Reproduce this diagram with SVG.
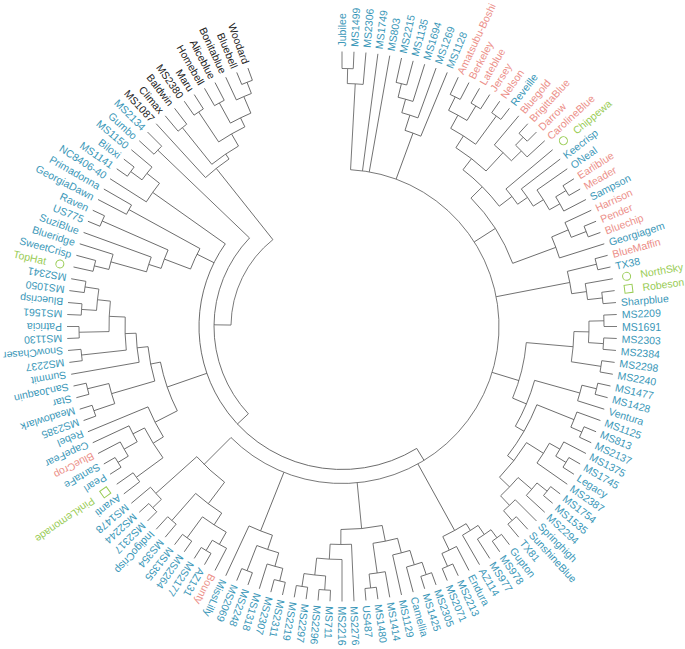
<svg xmlns="http://www.w3.org/2000/svg" width="685" height="649" viewBox="0 0 685 649">
<style>
.e line,.e circle{fill:none;stroke:#5a5a5a;stroke-width:0.8}
text{font-family:"Liberation Sans",Arial,sans-serif;font-size:10.5px;dominant-baseline:central}
.b{fill:#3a97b8}.p{fill:#ec8f89}.g{fill:#99cc55}.k{fill:#222}
.f{text-anchor:end}
.m{fill:none;stroke:#99cc55;stroke-width:1}
</style>
<rect width="685" height="649" fill="#fff"/>
<g transform="translate(342,326.5)">
<g id="connectors" class="e">
<line x1="258" x2="275" transform="rotate(-90)"/><line x1="258" x2="275" transform="rotate(-87.5)"/><line x1="243" x2="275" transform="rotate(-85)"/><line x1="157" x2="275" transform="rotate(-82.5)"/><line x1="157" x2="275" transform="rotate(-80)"/><line x1="250" x2="275" transform="rotate(-77.5)"/><line x1="250" x2="275" transform="rotate(-75)"/><line x1="236" x2="275" transform="rotate(-72.5)"/><line x1="222" x2="275" transform="rotate(-70)"/><line x1="206" x2="275" transform="rotate(-67.5)"/>
<line x1="256" x2="275" transform="rotate(-65)"/><line x1="256" x2="275" transform="rotate(-62.5)"/><line x1="258" x2="275" transform="rotate(-60)"/><line x1="258" x2="275" transform="rotate(-57.5)"/><line x1="261" x2="275" transform="rotate(-55)"/><line x1="261" x2="275" transform="rotate(-52.5)"/><line x1="237" x2="275" transform="rotate(-50)"/><line x1="262" x2="275" transform="rotate(-47.5)"/><line x1="262" x2="275" transform="rotate(-45)"/><line x1="251" x2="275" transform="rotate(-42.5)"/>
<line x1="214" x2="275" transform="rotate(-40)"/><line x1="226" x2="275" transform="rotate(-37.5)"/><line x1="238" x2="275" transform="rotate(-35)"/><line x1="262" x2="275" transform="rotate(-32.5)"/><line x1="262" x2="275" transform="rotate(-30)"/><line x1="250" x2="275" transform="rotate(-27.5)"/><line x1="246" x2="275" transform="rotate(-25)"/><line x1="262" x2="275" transform="rotate(-22.5)"/><line x1="262" x2="275" transform="rotate(-20)"/><line x1="228" x2="275" transform="rotate(-17.5)"/>
<line x1="262" x2="275" transform="rotate(-15)"/><line x1="262" x2="275" transform="rotate(-12.5)"/><line x1="247" x2="275" transform="rotate(-10)"/><line x1="262" x2="275" transform="rotate(-7.5)"/><line x1="262" x2="275" transform="rotate(-5)"/><line x1="262" x2="275" transform="rotate(-2.5)"/><line x1="262" x2="275" transform="rotate(0)"/><line x1="262" x2="275" transform="rotate(2.5)"/><line x1="262" x2="275" transform="rotate(5)"/><line x1="262" x2="275" transform="rotate(7.5)"/>
<line x1="262" x2="275" transform="rotate(10)"/><line x1="262" x2="275" transform="rotate(12.5)"/><line x1="262" x2="275" transform="rotate(15)"/><line x1="247" x2="275" transform="rotate(17.5)"/><line x1="250" x2="275" transform="rotate(20)"/><line x1="262" x2="275" transform="rotate(22.5)"/><line x1="262" x2="275" transform="rotate(25)"/><line x1="250" x2="275" transform="rotate(27.5)"/><line x1="262" x2="275" transform="rotate(30)"/><line x1="262" x2="275" transform="rotate(32.5)"/>
<line x1="238" x2="275" transform="rotate(35)"/><line x1="263" x2="275" transform="rotate(37.5)"/><line x1="263" x2="275" transform="rotate(40)"/><line x1="250" x2="275" transform="rotate(42.5)"/><line x1="245" x2="275" transform="rotate(45)"/><line x1="258" x2="275" transform="rotate(47.5)"/><line x1="258" x2="275" transform="rotate(50)"/><line x1="262" x2="275" transform="rotate(52.5)"/><line x1="262" x2="275" transform="rotate(55)"/><line x1="252" x2="275" transform="rotate(57.5)"/>
<line x1="241" x2="275" transform="rotate(60)"/><line x1="248" x2="275" transform="rotate(62.5)"/><line x1="262" x2="275" transform="rotate(65)"/><line x1="262" x2="275" transform="rotate(67.5)"/><line x1="262" x2="275" transform="rotate(70)"/><line x1="262" x2="275" transform="rotate(72.5)"/><line x1="249" x2="275" transform="rotate(75)"/><line x1="234" x2="275" transform="rotate(77.5)"/><line x1="249" x2="275" transform="rotate(80)"/><line x1="263" x2="275" transform="rotate(82.5)"/>
<line x1="263" x2="275" transform="rotate(85)"/><line x1="218" x2="275" transform="rotate(87.5)"/><line x1="233" x2="275" transform="rotate(90)"/><line x1="264" x2="275" transform="rotate(92.5)"/><line x1="264" x2="275" transform="rotate(95)"/><line x1="263" x2="275" transform="rotate(97.5)"/><line x1="263" x2="275" transform="rotate(100)"/><line x1="262" x2="275" transform="rotate(102.5)"/><line x1="262" x2="275" transform="rotate(105)"/><line x1="249" x2="275" transform="rotate(107.5)"/>
<line x1="262" x2="275" transform="rotate(110)"/><line x1="262" x2="275" transform="rotate(112.5)"/><line x1="220" x2="275" transform="rotate(115)"/><line x1="250" x2="275" transform="rotate(117.5)"/><line x1="262" x2="275" transform="rotate(120)"/><line x1="262" x2="275" transform="rotate(122.5)"/><line x1="262" x2="275" transform="rotate(125)"/><line x1="262" x2="275" transform="rotate(127.5)"/><line x1="258" x2="275" transform="rotate(130)"/><line x1="258" x2="275" transform="rotate(132.5)"/>
<line x1="262" x2="275" transform="rotate(135)"/><line x1="262" x2="275" transform="rotate(137.5)"/><line x1="250" x2="275" transform="rotate(140)"/><line x1="255" x2="275" transform="rotate(142.5)"/><line x1="255" x2="275" transform="rotate(145)"/><line x1="262" x2="275" transform="rotate(147.5)"/><line x1="262" x2="275" transform="rotate(150)"/><line x1="250" x2="275" transform="rotate(152.5)"/><line x1="235" x2="275" transform="rotate(155)"/><line x1="210" x2="275" transform="rotate(157.5)"/>
<line x1="262" x2="275" transform="rotate(160)"/><line x1="262" x2="275" transform="rotate(162.5)"/><line x1="262" x2="275" transform="rotate(165)"/><line x1="262" x2="275" transform="rotate(167.5)"/><line x1="206" x2="275" transform="rotate(170)"/><line x1="262" x2="275" transform="rotate(172.5)"/><line x1="262" x2="275" transform="rotate(175)"/><line x1="263" x2="275" transform="rotate(177.5)"/><line x1="263" x2="275" transform="rotate(180)"/><line x1="261" x2="275" transform="rotate(182.5)"/>
<line x1="261" x2="275" transform="rotate(185)"/><line x1="260" x2="275" transform="rotate(187.5)"/><line x1="260" x2="275" transform="rotate(190)"/><line x1="255" x2="275" transform="rotate(192.5)"/><line x1="255" x2="275" transform="rotate(195)"/><line x1="240" x2="275" transform="rotate(197.5)"/><line x1="203" x2="275" transform="rotate(200)"/><line x1="262" x2="275" transform="rotate(202.5)"/><line x1="262" x2="275" transform="rotate(205)"/><line x1="243" x2="275" transform="rotate(207.5)"/>
<line x1="243" x2="275" transform="rotate(210)"/><line x1="232" x2="275" transform="rotate(212.5)"/><line x1="262" x2="275" transform="rotate(215)"/><line x1="262" x2="275" transform="rotate(217.5)"/><line x1="248" x2="275" transform="rotate(220)"/><line x1="255" x2="275" transform="rotate(222.5)"/><line x1="255" x2="275" transform="rotate(225)"/><line x1="202" x2="275" transform="rotate(227.5)"/><line x1="255" x2="275" transform="rotate(230)"/><line x1="255" x2="275" transform="rotate(232.5)"/>
<line x1="258" x2="275" transform="rotate(235)"/><line x1="258" x2="275" transform="rotate(237.5)"/><line x1="255" x2="275" transform="rotate(240)"/><line x1="255" x2="275" transform="rotate(242.5)"/><line x1="250" x2="275" transform="rotate(245)"/><line x1="262" x2="275" transform="rotate(247.5)"/><line x1="262" x2="275" transform="rotate(250)"/>
<line x1="243" x2="258" transform="rotate(-88.75)"/><line x1="157" x2="243" transform="rotate(-86.875)"/><line x1="236" x2="250" transform="rotate(-76.25)"/><line x1="222" x2="236" transform="rotate(-74.375)"/><line x1="206" x2="222" transform="rotate(-72.19)"/><line x1="157" x2="206" transform="rotate(-69.84)"/>
<line x1="241" x2="256" transform="rotate(-63.75)"/><line x1="241" x2="258" transform="rotate(-58.75)"/><line x1="226" x2="241" transform="rotate(-61.25)"/><line x1="226" x2="261" transform="rotate(-53.75)"/><line x1="212" x2="226" transform="rotate(-57.5)"/><line x1="251" x2="262" transform="rotate(-46.25)"/><line x1="237" x2="251" transform="rotate(-44.375)"/><line x1="212" x2="237" transform="rotate(-47.19)"/><line x1="198" x2="212" transform="rotate(-52.34)"/>
<line x1="250" x2="262" transform="rotate(-31.25)"/><line x1="238" x2="250" transform="rotate(-29.375)"/><line x1="226" x2="238" transform="rotate(-32.19)"/><line x1="214" x2="226" transform="rotate(-34.84)"/><line x1="198" x2="214" transform="rotate(-37.42)"/><line x1="182" x2="198" transform="rotate(-44.88)"/><line x1="246" x2="262" transform="rotate(-21.25)"/><line x1="228" x2="246" transform="rotate(-23.125)"/><line x1="182" x2="228" transform="rotate(-20.31)"/><line x1="157" x2="182" transform="rotate(-32.6)"/>
<line x1="232" x2="262" transform="rotate(-13.75)"/><line x1="247" x2="262" transform="rotate(-6.25)"/><line x1="232" x2="247" transform="rotate(-8.125)"/><line x1="157" x2="232" transform="rotate(-10.94)"/>
<line x1="247" x2="262" transform="rotate(-1.25)"/><line x1="247" x2="262" transform="rotate(3.75)"/><line x1="232" x2="247" transform="rotate(1.25)"/><line x1="232" x2="262" transform="rotate(8.75)"/><line x1="185" x2="232" transform="rotate(5)"/><line x1="247" x2="262" transform="rotate(13.75)"/><line x1="200" x2="247" transform="rotate(15.625)"/>
<line x1="250" x2="262" transform="rotate(23.75)"/><line x1="210" x2="250" transform="rotate(21.875)"/><line x1="250" x2="262" transform="rotate(31.25)"/><line x1="238" x2="250" transform="rotate(29.375)"/><line x1="218" x2="238" transform="rotate(32.19)"/><line x1="250" x2="263" transform="rotate(38.75)"/><line x1="232" x2="250" transform="rotate(40.625)"/><line x1="245" x2="258" transform="rotate(48.75)"/><line x1="232" x2="245" transform="rotate(46.875)"/><line x1="218" x2="232" transform="rotate(43.75)"/><line x1="210" x2="218" transform="rotate(37.97)"/><line x1="200" x2="210" transform="rotate(29.92)"/><line x1="185" x2="200" transform="rotate(22.77)"/><line x1="157" x2="185" transform="rotate(17)"/>
<line x1="248" x2="262" transform="rotate(66.25)"/><line x1="233" x2="248" transform="rotate(64.375)"/><line x1="252" x2="262" transform="rotate(53.75)"/><line x1="241" x2="252" transform="rotate(55.625)"/><line x1="233" x2="241" transform="rotate(57.81)"/><line x1="157" x2="233" transform="rotate(61.09)"/>
<line x1="250" x2="263" transform="rotate(98.75)"/><line x1="250" x2="264" transform="rotate(93.75)"/><line x1="233" x2="250" transform="rotate(96.25)"/><line x1="218" x2="233" transform="rotate(93.125)"/><line x1="203" x2="218" transform="rotate(90.31)"/><line x1="249" x2="263" transform="rotate(83.75)"/><line x1="219" x2="249" transform="rotate(81.875)"/><line x1="249" x2="262" transform="rotate(71.25)"/><line x1="234" x2="249" transform="rotate(73.125)"/><line x1="219" x2="234" transform="rotate(75.31)"/><line x1="203" x2="219" transform="rotate(78.59)"/><line x1="157" x2="203" transform="rotate(84.45)"/>
<line x1="235" x2="262" transform="rotate(111.25)"/><line x1="249" x2="262" transform="rotate(103.75)"/><line x1="235" x2="249" transform="rotate(105.625)"/><line x1="220" x2="235" transform="rotate(108.44)"/><line x1="157" x2="220" transform="rotate(111.72)"/>
<line x1="250" x2="262" transform="rotate(121.25)"/><line x1="236" x2="250" transform="rotate(119.375)"/><line x1="236" x2="262" transform="rotate(126.25)"/><line x1="222" x2="236" transform="rotate(122.81)"/><line x1="222" x2="258" transform="rotate(131.25)"/><line x1="195" x2="222" transform="rotate(127.03)"/><line x1="250" x2="262" transform="rotate(136.25)"/><line x1="195" x2="250" transform="rotate(138.125)"/><line x1="157" x2="195" transform="rotate(135)"/><line x1="143" x2="157" transform="rotate(58.5)"/>
<line x1="222" x2="255" transform="rotate(143.75)"/><line x1="250" x2="262" transform="rotate(148.75)"/><line x1="235" x2="250" transform="rotate(150.625)"/><line x1="222" x2="235" transform="rotate(152.81)"/><line x1="210" x2="222" transform="rotate(148.28)"/><line x1="185" x2="210" transform="rotate(152.89)"/>
<line x1="240" x2="262" transform="rotate(161.25)"/><line x1="240" x2="262" transform="rotate(166.25)"/><line x1="195" x2="240" transform="rotate(163.75)"/><line x1="246" x2="260" transform="rotate(188.75)"/><line x1="246" x2="261" transform="rotate(183.75)"/><line x1="233" x2="246" transform="rotate(186.25)"/><line x1="233" x2="263" transform="rotate(178.75)"/><line x1="217" x2="233" transform="rotate(182.5)"/><line x1="217" x2="262" transform="rotate(173.75)"/><line x1="206" x2="217" transform="rotate(178.125)"/><line x1="195" x2="206" transform="rotate(174.06)"/><line x1="185" x2="195" transform="rotate(168.9)"/><line x1="143" x2="185" transform="rotate(160.9)"/>
<line x1="240" x2="255" transform="rotate(193.75)"/><line x1="203" x2="240" transform="rotate(195.625)"/><line x1="190" x2="203" transform="rotate(197.81)"/><line x1="190" x2="262" transform="rotate(203.75)"/><line x1="162" x2="190" transform="rotate(200.78)"/><line x1="162" x2="243" transform="rotate(208.75)"/><line x1="143" x2="162" transform="rotate(206.5)"/>
<line x1="248" x2="262" transform="rotate(216.25)"/><line x1="232" x2="248" transform="rotate(218.125)"/><line x1="143" x2="232" transform="rotate(215.31)"/><line x1="128" x2="143" transform="rotate(137)"/><line x1="128" x2="255" transform="rotate(223.75)"/><line x1="111" x2="128" transform="rotate(180.75)"/>
<line x1="208" x2="255" transform="rotate(231.25)"/><line x1="222" x2="258" transform="rotate(236.25)"/><line x1="232" x2="255" transform="rotate(241.25)"/><line x1="250" x2="262" transform="rotate(248.75)"/><line x1="232" x2="250" transform="rotate(246.875)"/><line x1="222" x2="232" transform="rotate(244.06)"/><line x1="208" x2="222" transform="rotate(240.16)"/><line x1="202" x2="208" transform="rotate(236)"/><line x1="111" x2="202" transform="rotate(231.5)"/>
<circle r="258" pathLength="360" stroke-dasharray="2.5 360" transform="rotate(-90)"/>
<circle r="243" pathLength="360" stroke-dasharray="3.75 360" transform="rotate(-88.75)"/>
<circle r="157" pathLength="360" stroke-dasharray="221.875 360" transform="rotate(-86.875)"/>
<circle r="250" pathLength="360" stroke-dasharray="2.5 360" transform="rotate(-77.5)"/>
<circle r="236" pathLength="360" stroke-dasharray="3.75 360" transform="rotate(-76.25)"/>
<circle r="222" pathLength="360" stroke-dasharray="4.375 360" transform="rotate(-74.375)"/>
<circle r="206" pathLength="360" stroke-dasharray="4.69 360" transform="rotate(-72.19)"/>
<circle r="256" pathLength="360" stroke-dasharray="2.5 360" transform="rotate(-65)"/>
<circle r="258" pathLength="360" stroke-dasharray="2.5 360" transform="rotate(-60)"/>
<circle r="241" pathLength="360" stroke-dasharray="5 360" transform="rotate(-63.75)"/>
<circle r="261" pathLength="360" stroke-dasharray="2.5 360" transform="rotate(-55)"/>
<circle r="226" pathLength="360" stroke-dasharray="7.5 360" transform="rotate(-61.25)"/>
<circle r="262" pathLength="360" stroke-dasharray="2.5 360" transform="rotate(-47.5)"/>
<circle r="251" pathLength="360" stroke-dasharray="3.75 360" transform="rotate(-46.25)"/>
<circle r="237" pathLength="360" stroke-dasharray="5.625 360" transform="rotate(-50)"/>
<circle r="212" pathLength="360" stroke-dasharray="10.31 360" transform="rotate(-57.5)"/>
<circle r="262" pathLength="360" stroke-dasharray="2.5 360" transform="rotate(-32.5)"/>
<circle r="250" pathLength="360" stroke-dasharray="3.75 360" transform="rotate(-31.25)"/>
<circle r="238" pathLength="360" stroke-dasharray="5.625 360" transform="rotate(-35)"/>
<circle r="226" pathLength="360" stroke-dasharray="5.31 360" transform="rotate(-37.5)"/>
<circle r="214" pathLength="360" stroke-dasharray="5.16 360" transform="rotate(-40)"/>
<circle r="198" pathLength="360" stroke-dasharray="14.92 360" transform="rotate(-52.34)"/>
<circle r="262" pathLength="360" stroke-dasharray="2.5 360" transform="rotate(-22.5)"/>
<circle r="246" pathLength="360" stroke-dasharray="3.75 360" transform="rotate(-25)"/>
<circle r="228" pathLength="360" stroke-dasharray="5.625 360" transform="rotate(-23.125)"/>
<circle r="182" pathLength="360" stroke-dasharray="24.57 360" transform="rotate(-44.88)"/>
<circle r="262" pathLength="360" stroke-dasharray="2.5 360" transform="rotate(-15)"/>
<circle r="262" pathLength="360" stroke-dasharray="2.5 360" transform="rotate(-7.5)"/>
<circle r="247" pathLength="360" stroke-dasharray="3.75 360" transform="rotate(-10)"/>
<circle r="232" pathLength="360" stroke-dasharray="5.625 360" transform="rotate(-13.75)"/>
<circle r="262" pathLength="360" stroke-dasharray="2.5 360" transform="rotate(-2.5)"/>
<circle r="262" pathLength="360" stroke-dasharray="2.5 360" transform="rotate(2.5)"/>
<circle r="247" pathLength="360" stroke-dasharray="5 360" transform="rotate(-1.25)"/>
<circle r="262" pathLength="360" stroke-dasharray="2.5 360" transform="rotate(7.5)"/>
<circle r="232" pathLength="360" stroke-dasharray="7.5 360" transform="rotate(1.25)"/>
<circle r="262" pathLength="360" stroke-dasharray="2.5 360" transform="rotate(12.5)"/>
<circle r="247" pathLength="360" stroke-dasharray="3.75 360" transform="rotate(13.75)"/>
<circle r="262" pathLength="360" stroke-dasharray="2.5 360" transform="rotate(22.5)"/>
<circle r="250" pathLength="360" stroke-dasharray="3.75 360" transform="rotate(20)"/>
<circle r="262" pathLength="360" stroke-dasharray="2.5 360" transform="rotate(30)"/>
<circle r="250" pathLength="360" stroke-dasharray="3.75 360" transform="rotate(27.5)"/>
<circle r="238" pathLength="360" stroke-dasharray="5.625 360" transform="rotate(29.375)"/>
<circle r="263" pathLength="360" stroke-dasharray="2.5 360" transform="rotate(37.5)"/>
<circle r="250" pathLength="360" stroke-dasharray="3.75 360" transform="rotate(38.75)"/>
<circle r="258" pathLength="360" stroke-dasharray="2.5 360" transform="rotate(47.5)"/>
<circle r="245" pathLength="360" stroke-dasharray="3.75 360" transform="rotate(45)"/>
<circle r="232" pathLength="360" stroke-dasharray="6.25 360" transform="rotate(40.625)"/>
<circle r="218" pathLength="360" stroke-dasharray="11.56 360" transform="rotate(32.19)"/>
<circle r="210" pathLength="360" stroke-dasharray="16.1 360" transform="rotate(21.875)"/>
<circle r="200" pathLength="360" stroke-dasharray="14.3 360" transform="rotate(15.625)"/>
<circle r="185" pathLength="360" stroke-dasharray="17.77 360" transform="rotate(5)"/>
<circle r="262" pathLength="360" stroke-dasharray="2.5 360" transform="rotate(65)"/>
<circle r="248" pathLength="360" stroke-dasharray="3.75 360" transform="rotate(62.5)"/>
<circle r="262" pathLength="360" stroke-dasharray="2.5 360" transform="rotate(52.5)"/>
<circle r="252" pathLength="360" stroke-dasharray="3.75 360" transform="rotate(53.75)"/>
<circle r="241" pathLength="360" stroke-dasharray="4.375 360" transform="rotate(55.625)"/>
<circle r="233" pathLength="360" stroke-dasharray="6.56 360" transform="rotate(57.81)"/>
<circle r="263" pathLength="360" stroke-dasharray="2.5 360" transform="rotate(97.5)"/>
<circle r="264" pathLength="360" stroke-dasharray="2.5 360" transform="rotate(92.5)"/>
<circle r="250" pathLength="360" stroke-dasharray="5 360" transform="rotate(93.75)"/>
<circle r="233" pathLength="360" stroke-dasharray="6.25 360" transform="rotate(90)"/>
<circle r="218" pathLength="360" stroke-dasharray="5.625 360" transform="rotate(87.5)"/>
<circle r="263" pathLength="360" stroke-dasharray="2.5 360" transform="rotate(82.5)"/>
<circle r="249" pathLength="360" stroke-dasharray="3.75 360" transform="rotate(80)"/>
<circle r="262" pathLength="360" stroke-dasharray="2.5 360" transform="rotate(70)"/>
<circle r="249" pathLength="360" stroke-dasharray="3.75 360" transform="rotate(71.25)"/>
<circle r="234" pathLength="360" stroke-dasharray="4.375 360" transform="rotate(73.125)"/>
<circle r="219" pathLength="360" stroke-dasharray="6.56 360" transform="rotate(75.31)"/>
<circle r="203" pathLength="360" stroke-dasharray="11.72 360" transform="rotate(78.59)"/>
<circle r="262" pathLength="360" stroke-dasharray="2.5 360" transform="rotate(110)"/>
<circle r="262" pathLength="360" stroke-dasharray="2.5 360" transform="rotate(102.5)"/>
<circle r="249" pathLength="360" stroke-dasharray="3.75 360" transform="rotate(103.75)"/>
<circle r="235" pathLength="360" stroke-dasharray="5.625 360" transform="rotate(105.625)"/>
<circle r="220" pathLength="360" stroke-dasharray="6.56 360" transform="rotate(108.44)"/>
<circle r="262" pathLength="360" stroke-dasharray="2.5 360" transform="rotate(120)"/>
<circle r="250" pathLength="360" stroke-dasharray="3.75 360" transform="rotate(117.5)"/>
<circle r="262" pathLength="360" stroke-dasharray="2.5 360" transform="rotate(125)"/>
<circle r="236" pathLength="360" stroke-dasharray="6.875 360" transform="rotate(119.375)"/>
<circle r="258" pathLength="360" stroke-dasharray="2.5 360" transform="rotate(130)"/>
<circle r="222" pathLength="360" stroke-dasharray="8.44 360" transform="rotate(122.81)"/>
<circle r="262" pathLength="360" stroke-dasharray="2.5 360" transform="rotate(135)"/>
<circle r="250" pathLength="360" stroke-dasharray="3.75 360" transform="rotate(136.25)"/>
<circle r="195" pathLength="360" stroke-dasharray="11.1 360" transform="rotate(127.03)"/>
<circle r="255" pathLength="360" stroke-dasharray="2.5 360" transform="rotate(142.5)"/>
<circle r="262" pathLength="360" stroke-dasharray="2.5 360" transform="rotate(147.5)"/>
<circle r="250" pathLength="360" stroke-dasharray="3.75 360" transform="rotate(148.75)"/>
<circle r="235" pathLength="360" stroke-dasharray="4.375 360" transform="rotate(150.625)"/>
<circle r="222" pathLength="360" stroke-dasharray="9.06 360" transform="rotate(143.75)"/>
<circle r="210" pathLength="360" stroke-dasharray="9.22 360" transform="rotate(148.28)"/>
<circle r="262" pathLength="360" stroke-dasharray="2.5 360" transform="rotate(160)"/>
<circle r="262" pathLength="360" stroke-dasharray="2.5 360" transform="rotate(165)"/>
<circle r="240" pathLength="360" stroke-dasharray="5 360" transform="rotate(161.25)"/>
<circle r="260" pathLength="360" stroke-dasharray="2.5 360" transform="rotate(187.5)"/>
<circle r="261" pathLength="360" stroke-dasharray="2.5 360" transform="rotate(182.5)"/>
<circle r="246" pathLength="360" stroke-dasharray="5 360" transform="rotate(183.75)"/>
<circle r="263" pathLength="360" stroke-dasharray="2.5 360" transform="rotate(177.5)"/>
<circle r="233" pathLength="360" stroke-dasharray="7.5 360" transform="rotate(178.75)"/>
<circle r="262" pathLength="360" stroke-dasharray="2.5 360" transform="rotate(172.5)"/>
<circle r="217" pathLength="360" stroke-dasharray="8.75 360" transform="rotate(173.75)"/>
<circle r="206" pathLength="360" stroke-dasharray="8.125 360" transform="rotate(170)"/>
<circle r="195" pathLength="360" stroke-dasharray="10.31 360" transform="rotate(163.75)"/>
<circle r="185" pathLength="360" stroke-dasharray="16.01 360" transform="rotate(152.89)"/>
<circle r="255" pathLength="360" stroke-dasharray="2.5 360" transform="rotate(192.5)"/>
<circle r="240" pathLength="360" stroke-dasharray="3.75 360" transform="rotate(193.75)"/>
<circle r="203" pathLength="360" stroke-dasharray="4.375 360" transform="rotate(195.625)"/>
<circle r="262" pathLength="360" stroke-dasharray="2.5 360" transform="rotate(202.5)"/>
<circle r="190" pathLength="360" stroke-dasharray="5.94 360" transform="rotate(197.81)"/>
<circle r="243" pathLength="360" stroke-dasharray="2.5 360" transform="rotate(207.5)"/>
<circle r="162" pathLength="360" stroke-dasharray="7.97 360" transform="rotate(200.78)"/>
<circle r="262" pathLength="360" stroke-dasharray="2.5 360" transform="rotate(215)"/>
<circle r="248" pathLength="360" stroke-dasharray="3.75 360" transform="rotate(216.25)"/>
<circle r="232" pathLength="360" stroke-dasharray="5.625 360" transform="rotate(212.5)"/>
<circle r="143" pathLength="360" stroke-dasharray="156.81 360" transform="rotate(58.5)"/>
<circle r="255" pathLength="360" stroke-dasharray="2.5 360" transform="rotate(222.5)"/>
<circle r="128" pathLength="360" stroke-dasharray="86.75 360" transform="rotate(137)"/>
<circle r="255" pathLength="360" stroke-dasharray="2.5 360" transform="rotate(230)"/>
<circle r="258" pathLength="360" stroke-dasharray="2.5 360" transform="rotate(235)"/>
<circle r="255" pathLength="360" stroke-dasharray="2.5 360" transform="rotate(240)"/>
<circle r="262" pathLength="360" stroke-dasharray="2.5 360" transform="rotate(247.5)"/>
<circle r="250" pathLength="360" stroke-dasharray="3.75 360" transform="rotate(245)"/>
<circle r="232" pathLength="360" stroke-dasharray="5.625 360" transform="rotate(241.25)"/>
<circle r="222" pathLength="360" stroke-dasharray="7.81 360" transform="rotate(236.25)"/>
<circle r="208" pathLength="360" stroke-dasharray="8.91 360" transform="rotate(231.25)"/>
<circle r="202" pathLength="360" stroke-dasharray="8.5 360" transform="rotate(227.5)"/>
<circle r="111" pathLength="360" stroke-dasharray="50.75 360" transform="rotate(180.75)"/>
</g>
<g id="markers">
<circle class="m" cx="289" r="4" transform="rotate(-40)"/>
<circle class="m" cx="289" r="4" transform="rotate(-10)"/>
<rect class="m" x="285" y="-4" width="8" height="8" transform="rotate(-7.5)"/>
<rect class="m" x="285" y="-4" width="8" height="8" transform="rotate(145)"/>
<circle class="m" cx="289" r="4" transform="rotate(192.5)"/>
</g>
<g id="labels">
<g id="leaf-Jubilee"><text class="b" transform="rotate(-90) translate(280)">Jubilee</text></g>
<g id="leaf-MS1499"><text class="b" transform="rotate(-87.5) translate(280)">MS1499</text></g>
<g id="leaf-MS2306"><text class="b" transform="rotate(-85) translate(280)">MS2306</text></g>
<g id="leaf-MS1749"><text class="b" transform="rotate(-82.5) translate(280)">MS1749</text></g>
<g id="leaf-MS803"><text class="b" transform="rotate(-80) translate(280)">MS803</text></g>
<g id="leaf-MS2215"><text class="b" transform="rotate(-77.5) translate(280)">MS2215</text></g>
<g id="leaf-MS1135"><text class="b" transform="rotate(-75) translate(280)">MS1135</text></g>
<g id="leaf-MS1694"><text class="b" transform="rotate(-72.5) translate(280)">MS1694</text></g>
<g id="leaf-MS1269"><text class="b" transform="rotate(-70) translate(280)">MS1269</text></g>
<g id="leaf-MS1128"><text class="b" transform="rotate(-67.5) translate(280)">MS1128</text></g>
<g id="leaf-Amatsubu-Boshi"><text class="p" transform="rotate(-65) translate(279)">Amatsubu-Boshi</text></g>
<g id="leaf-Berkeley"><text class="p" transform="rotate(-62.5) translate(280)">Berkeley</text></g>
<g id="leaf-Lateblue"><text class="p" transform="rotate(-60) translate(280)">Lateblue</text></g>
<g id="leaf-Jersey"><text class="p" transform="rotate(-57.5) translate(280)">Jersey</text></g>
<g id="leaf-Nelson"><text class="p" transform="rotate(-55) translate(280)">Nelson</text></g>
<g id="leaf-Reveille"><text class="b" transform="rotate(-52.5) translate(280)">Reveille</text></g>
<g id="leaf-Bluegold"><text class="p" transform="rotate(-50) translate(280)">Bluegold</text></g>
<g id="leaf-BrigittaBlue"><text class="p" transform="rotate(-47.5) translate(280)">BrigittaBlue</text></g>
<g id="leaf-Darrow"><text class="p" transform="rotate(-45) translate(280)">Darrow</text></g>
<g id="leaf-CarolineBlue"><text class="p" transform="rotate(-42.5) translate(280)">CarolineBlue</text></g>
<g id="leaf-Chippewa"><text class="g" transform="rotate(-40) translate(303)">Chippewa</text></g>
<g id="leaf-Keecrisp"><text class="b" transform="rotate(-37.5) translate(280)">Keecrisp</text></g>
<g id="leaf-ONeal"><text class="b" transform="rotate(-35) translate(280)">ONeal</text></g>
<g id="leaf-Earliblue"><text class="p" transform="rotate(-32.5) translate(280)">Earliblue</text></g>
<g id="leaf-Meader"><text class="p" transform="rotate(-30) translate(280)">Meader</text></g>
<g id="leaf-Sampson"><text class="b" transform="rotate(-27.5) translate(280)">Sampson</text></g>
<g id="leaf-Harrison"><text class="p" transform="rotate(-25) translate(280)">Harrison</text></g>
<g id="leaf-Pender"><text class="p" transform="rotate(-22.5) translate(280)">Pender</text></g>
<g id="leaf-Bluechip"><text class="p" transform="rotate(-20) translate(280)">Bluechip</text></g>
<g id="leaf-Georgiagem"><text class="b" transform="rotate(-17.5) translate(280)">Georgiagem</text></g>
<g id="leaf-BlueMaffin"><text class="p" transform="rotate(-15) translate(280)">BlueMaffin</text></g>
<g id="leaf-TX38"><text class="b" transform="rotate(-12.5) translate(280)">TX38</text></g>
<g id="leaf-NorthSky"><text class="g" transform="rotate(-10) translate(303)">NorthSky</text></g>
<g id="leaf-Robeson"><text class="g" transform="rotate(-7.5) translate(303)">Robeson</text></g>
<g id="leaf-Sharpblue"><text class="b" transform="rotate(-5) translate(280)">Sharpblue</text></g>
<g id="leaf-MS2209"><text class="b" transform="rotate(-2.5) translate(280)">MS2209</text></g>
<g id="leaf-MS1691"><text class="b" transform="rotate(0) translate(280)">MS1691</text></g>
<g id="leaf-MS2303"><text class="b" transform="rotate(2.5) translate(280)">MS2303</text></g>
<g id="leaf-MS2384"><text class="b" transform="rotate(5) translate(280)">MS2384</text></g>
<g id="leaf-MS2298"><text class="b" transform="rotate(7.5) translate(280)">MS2298</text></g>
<g id="leaf-MS2240"><text class="b" transform="rotate(10) translate(280)">MS2240</text></g>
<g id="leaf-MS1477"><text class="b" transform="rotate(12.5) translate(280)">MS1477</text></g>
<g id="leaf-MS1428"><text class="b" transform="rotate(15) translate(280)">MS1428</text></g>
<g id="leaf-Ventura"><text class="b" transform="rotate(17.5) translate(280)">Ventura</text></g>
<g id="leaf-MS1125"><text class="b" transform="rotate(20) translate(280)">MS1125</text></g>
<g id="leaf-MS813"><text class="b" transform="rotate(22.5) translate(280)">MS813</text></g>
<g id="leaf-MS2137"><text class="b" transform="rotate(25) translate(280)">MS2137</text></g>
<g id="leaf-MS1375"><text class="b" transform="rotate(27.5) translate(280)">MS1375</text></g>
<g id="leaf-MS1745"><text class="b" transform="rotate(30) translate(280)">MS1745</text></g>
<g id="leaf-Legacy"><text class="b" transform="rotate(32.5) translate(280)">Legacy</text></g>
<g id="leaf-MS2387"><text class="b" transform="rotate(35) translate(280)">MS2387</text></g>
<g id="leaf-MS1754"><text class="b" transform="rotate(37.5) translate(280)">MS1754</text></g>
<g id="leaf-MS1535"><text class="b" transform="rotate(40) translate(280)">MS1535</text></g>
<g id="leaf-MS2294"><text class="b" transform="rotate(42.5) translate(280)">MS2294</text></g>
<g id="leaf-Springhigh"><text class="b" transform="rotate(45) translate(280)">Springhigh</text></g>
<g id="leaf-SunshineBlue"><text class="b" transform="rotate(47.5) translate(280)">SunshineBlue</text></g>
<g id="leaf-TX81"><text class="b" transform="rotate(50) translate(280)">TX81</text></g>
<g id="leaf-Gupton"><text class="b" transform="rotate(52.5) translate(280)">Gupton</text></g>
<g id="leaf-MS978"><text class="b" transform="rotate(55) translate(280)">MS978</text></g>
<g id="leaf-MS977"><text class="b" transform="rotate(57.5) translate(280)">MS977</text></g>
<g id="leaf-AZ114"><text class="b" transform="rotate(60) translate(280)">AZ114</text></g>
<g id="leaf-Endura"><text class="b" transform="rotate(62.5) translate(280)">Endura</text></g>
<g id="leaf-MS2213"><text class="b" transform="rotate(65) translate(280)">MS2213</text></g>
<g id="leaf-MS2071"><text class="b" transform="rotate(67.5) translate(280)">MS2071</text></g>
<g id="leaf-MS2305"><text class="b" transform="rotate(70) translate(280)">MS2305</text></g>
<g id="leaf-MS1425"><text class="b" transform="rotate(72.5) translate(280)">MS1425</text></g>
<g id="leaf-Camellia"><text class="b" transform="rotate(75) translate(280)">Camellia</text></g>
<g id="leaf-MS1129"><text class="b" transform="rotate(77.5) translate(280)">MS1129</text></g>
<g id="leaf-MS1414"><text class="b" transform="rotate(80) translate(280)">MS1414</text></g>
<g id="leaf-MS1480"><text class="b" transform="rotate(82.5) translate(280)">MS1480</text></g>
<g id="leaf-US487"><text class="b" transform="rotate(85) translate(280)">US487</text></g>
<g id="leaf-MS2276"><text class="b" transform="rotate(87.5) translate(280)">MS2276</text></g>
<g id="leaf-MS2216"><text class="b" transform="rotate(90) translate(280)">MS2216</text></g>
<g id="leaf-MS711"><text class="b" transform="rotate(92.5) translate(280)">MS711</text></g>
<g id="leaf-MS2296"><text class="b" transform="rotate(95) translate(280)">MS2296</text></g>
<g id="leaf-MS2297"><text class="b" transform="rotate(97.5) translate(280)">MS2297</text></g>
<g id="leaf-MS2219"><text class="b" transform="rotate(100) translate(280)">MS2219</text></g>
<g id="leaf-MS2311"><text class="b" transform="rotate(102.5) translate(280)">MS2311</text></g>
<g id="leaf-MS2307"><text class="b" transform="rotate(105) translate(280)">MS2307</text></g>
<g id="leaf-MS1318"><text class="b" transform="rotate(107.5) translate(280)">MS1318</text></g>
<g id="leaf-MS2248"><text class="b" transform="rotate(110) translate(280)">MS2248</text></g>
<g id="leaf-MS2069"><text class="b" transform="rotate(112.5) translate(280)">MS2069</text></g>
<g id="leaf-MissLilly"><text class="b" transform="rotate(115) translate(280)">MissLilly</text></g>
<g id="leaf-Bounty"><text class="p" transform="rotate(117.5) translate(280)">Bounty</text></g>
<g id="leaf-AZ131"><text class="b" transform="rotate(120) translate(280)">AZ131</text></g>
<g id="leaf-MS2177"><text class="b" transform="rotate(122.5) translate(280)">MS2177</text></g>
<g id="leaf-MS2264"><text class="b" transform="rotate(125) translate(280)">MS2264</text></g>
<g id="leaf-MS1355"><text class="b" transform="rotate(127.5) translate(280)">MS1355</text></g>
<g id="leaf-MS354"><text class="b" transform="rotate(130) translate(280)">MS354</text></g>
<g id="leaf-IndigoCrisp"><text class="b" transform="rotate(132.5) translate(280)">IndigoCrisp</text></g>
<g id="leaf-MS2317"><text class="b" transform="rotate(135) translate(280)">MS2317</text></g>
<g id="leaf-MS2244"><text class="b" transform="rotate(137.5) translate(280)">MS2244</text></g>
<g id="leaf-MS1478"><text class="b" transform="rotate(140) translate(280)">MS1478</text></g>
<g id="leaf-Avanti"><text class="b" transform="rotate(142.5) translate(280)">Avanti</text></g>
<g id="leaf-PinkLemonade"><text class="g" transform="rotate(145) translate(303)">PinkLemonade</text></g>
<g id="leaf-Pearl"><text class="b" transform="rotate(147.5) translate(280)">Pearl</text></g>
<g id="leaf-SantaFe"><text class="b" transform="rotate(150) translate(280)">SantaFe</text></g>
<g id="leaf-BlueCrop"><text class="p" transform="rotate(152.5) translate(280)">BlueCrop</text></g>
<g id="leaf-CapeFear"><text class="b" transform="rotate(155) translate(280)">CapeFear</text></g>
<g id="leaf-Rebel"><text class="b" transform="rotate(157.5) translate(280)">Rebel</text></g>
<g id="leaf-MS2385"><text class="b" transform="rotate(160) translate(280)">MS2385</text></g>
<g id="leaf-Meadowlark"><text class="b" transform="rotate(162.5) translate(280)">Meadowlark</text></g>
<g id="leaf-Star"><text class="b" transform="rotate(165) translate(280)">Star</text></g>
<g id="leaf-SanJoaquin"><text class="b" transform="rotate(167.5) translate(280)">SanJoaquin</text></g>
<g id="leaf-Summit"><text class="b" transform="rotate(170) translate(280)">Summit</text></g>
<g id="leaf-MS2237"><text class="b" transform="rotate(172.5) translate(280)">MS2237</text></g>
<g id="leaf-SnowChaser"><text class="b" transform="rotate(175) translate(280)">SnowChaser</text></g>
<g id="leaf-MS1130"><text class="b" transform="rotate(177.5) translate(280)">MS1130</text></g>
<g id="leaf-Patricia"><text class="b" transform="rotate(180) translate(280)">Patricia</text></g>
<g id="leaf-MS1561"><text class="b" transform="rotate(182.5) translate(280)">MS1561</text></g>
<g id="leaf-Bluecrisp"><text class="b" transform="rotate(185) translate(280)">Bluecrisp</text></g>
<g id="leaf-MS1050"><text class="b" transform="rotate(187.5) translate(280)">MS1050</text></g>
<g id="leaf-MS2341"><text class="b" transform="rotate(190) translate(280)">MS2341</text></g>
<g id="leaf-TopHat"><text class="g f" transform="rotate(192.5) translate(303) rotate(180)">TopHat</text></g>
<g id="leaf-SweetCrisp"><text class="b f" transform="rotate(195) translate(280) rotate(180)">SweetCrisp</text></g>
<g id="leaf-Blueridge"><text class="b f" transform="rotate(197.5) translate(280) rotate(180)">Blueridge</text></g>
<g id="leaf-SuziBlue"><text class="b f" transform="rotate(200) translate(280) rotate(180)">SuziBlue</text></g>
<g id="leaf-US775"><text class="b f" transform="rotate(202.5) translate(280) rotate(180)">US775</text></g>
<g id="leaf-Raven"><text class="b f" transform="rotate(205) translate(280) rotate(180)">Raven</text></g>
<g id="leaf-GeorgiaDawn"><text class="b f" transform="rotate(207.5) translate(280) rotate(180)">GeorgiaDawn</text></g>
<g id="leaf-Primadonna"><text class="b f" transform="rotate(210) translate(280) rotate(180)">Primadonna</text></g>
<g id="leaf-NC8406-40"><text class="b f" transform="rotate(212.5) translate(280) rotate(180)">NC8406-40</text></g>
<g id="leaf-MS1141"><text class="b f" transform="rotate(215) translate(280) rotate(180)">MS1141</text></g>
<g id="leaf-Biloxi"><text class="b f" transform="rotate(217.5) translate(280) rotate(180)">Biloxi</text></g>
<g id="leaf-MS1150"><text class="b f" transform="rotate(220) translate(280) rotate(180)">MS1150</text></g>
<g id="leaf-Gumbo"><text class="b f" transform="rotate(222.5) translate(280) rotate(180)">Gumbo</text></g>
<g id="leaf-MS2134"><text class="b f" transform="rotate(225) translate(280) rotate(180)">MS2134</text></g>
<g id="leaf-MS1087"><text class="k f" transform="rotate(227.5) translate(280) rotate(180)">MS1087</text></g>
<g id="leaf-Climax"><text class="k f" transform="rotate(230) translate(280) rotate(180)">Climax</text></g>
<g id="leaf-Baldwin"><text class="k f" transform="rotate(232.5) translate(280) rotate(180)">Baldwin</text></g>
<g id="leaf-MS2380"><text class="k f" transform="rotate(235) translate(280) rotate(180)">MS2380</text></g>
<g id="leaf-Maru"><text class="k f" transform="rotate(237.5) translate(280) rotate(180)">Maru</text></g>
<g id="leaf-Homebell"><text class="k f" transform="rotate(240) translate(280) rotate(180)">Homebell</text></g>
<g id="leaf-Aliceblue"><text class="k f" transform="rotate(242.5) translate(280) rotate(180)">Aliceblue</text></g>
<g id="leaf-Bonitablue"><text class="k f" transform="rotate(245) translate(280) rotate(180)">Bonitablue</text></g>
<g id="leaf-Bluebell"><text class="k f" transform="rotate(247.5) translate(280) rotate(180)">Bluebell</text></g>
<g id="leaf-Woodard"><text class="k f" transform="rotate(250) translate(280) rotate(180)">Woodard</text></g>
</g>
</g>
</svg>
